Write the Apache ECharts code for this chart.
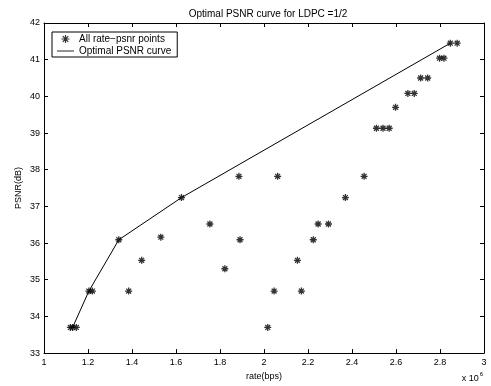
<!DOCTYPE html>
<html>
<head>
<meta charset="utf-8">
<script src="https://cdn.jsdelivr.net/npm/echarts@6/dist/echarts.min.js"></script>
<style>
  html, body { margin: 0; padding: 0; background: #fff; }
  #main { width: 491px; height: 386px; }
</style>
</head>
<body>
<div id="main"></div>
<script>
// all rate-psnr points (rate in units of 1e6 bps)
var allRate = [1.12, 1.13, 1.147, 1.204, 1.22, 1.34, 1.385, 1.444, 1.531, 1.625,
  1.754, 1.822, 1.886, 1.891, 2.017, 2.046, 2.062, 2.152, 2.17, 2.224,
  2.246, 2.293, 2.37, 2.455, 2.511, 2.541, 2.569, 2.598, 2.654, 2.683,
  2.712, 2.744, 2.798, 2.818, 2.847, 2.878]
var allPsnr = [33.7, 33.7, 33.7, 34.69, 34.69, 36.09, 34.69, 35.53, 36.16, 37.24,
  36.52, 35.3, 37.82, 36.09, 33.7, 34.69, 37.82, 35.53, 34.69, 36.09,
  36.52, 36.52, 37.24, 37.82, 39.13, 39.13, 39.13, 39.7, 40.08, 40.08,
  40.5, 40.5, 41.04, 41.04, 41.45, 41.45]

// optimal curve (upper hull)
var optRate = [1.13, 1.204, 1.34, 1.625, 2.847]
var optPsnr = [33.7, 34.69, 36.09, 37.24, 41.45]

var xTicks = [1, 1.2, 1.4, 1.6, 1.8, 2, 2.2, 2.4, 2.6, 2.8, 3]
var yTicks = [33, 34, 35, 36, 37, 38, 39, 40, 41, 42]

var star = 'path://M0 5L10 5M5 0L5 10M1.5 1.5L8.5 8.5M8.5 1.5L1.5 8.5'
var font = 'Liberation Sans, Arial, sans-serif'

var myChart = echarts.init(document.getElementById('main'))

var scatterData = []
for (var i = 0; i < allRate.length; i++) scatterData.push([allRate[i], allPsnr[i]])
var lineData = []
for (var j = 0; j < optRate.length; j++) lineData.push([optRate[j], optPsnr[j]])

function xAxisOf(pos, show) {
  return {
    type: 'value', position: pos, min: 1, max: 3, interval: 0.2,
    axisLine: { show: true, onZero: false, lineStyle: { color: '#000', width: 1 } },
    axisTick: { show: true, inside: true, length: 4, lineStyle: { color: '#000' } },
    splitLine: { show: false },
    axisLabel: {
      show: show, color: '#000', fontSize: 9, fontFamily: font, margin: 5,
      formatter: function (v) { return xTicks.indexOf(+v.toFixed(1)) >= 0 ? (+v.toFixed(1)).toString() : '' }
    },
    name: show ? 'rate(bps)' : '', nameLocation: 'middle', nameGap: 16,
    nameTextStyle: { color: '#000', fontSize: 9, fontFamily: font }
  }
}
function yAxisOf(pos, show) {
  return {
    type: 'value', position: pos, min: 33, max: 42, interval: 1,
    axisLine: { show: true, onZero: false, lineStyle: { color: '#000', width: 1 } },
    axisTick: { show: true, inside: true, length: 4, lineStyle: { color: '#000' } },
    splitLine: { show: false },
    axisLabel: {
      show: show, color: '#000', fontSize: 9, fontFamily: font, margin: 4,
      formatter: function (v) { return yTicks.indexOf(v) >= 0 ? String(v) : '' }
    },
    name: show ? 'PSNR(dB)' : '', nameLocation: 'middle', nameGap: 21,
    nameMoveOverlap: false,
    nameTextStyle: { color: '#000', fontSize: 9, fontFamily: font }
  }
}

var option = {
  backgroundColor: '#fff',
  animation: false,
  title: {
    text: 'Optimal PSNR curve for LDPC =1/2',
    left: 263, textAlign: 'center', top: 4,
    textStyle: { color: '#000', fontSize: 10, fontWeight: 'normal', fontFamily: font }
  },
  grid: { left: 44, right: 7, top: 23, bottom: 30 },
  legend: {
    orient: 'vertical', left: 52, top: 32,
    backgroundColor: '#fff', borderColor: '#000', borderWidth: 1,
    padding: [2, 6, 1, 5], itemGap: 2, itemWidth: 17, itemHeight: 8,
    textStyle: { color: '#000', fontSize: 10, fontFamily: font },
    data: [
      { name: 'All rate−psnr points', icon: star, itemStyle: { color: 'transparent', borderColor: '#000', borderWidth: 1.2 } },
      { name: 'Optimal PSNR curve', icon: 'path://M0 0H20V1H0Z', itemStyle: { color: '#000' } }
    ]
  },
  xAxis: [xAxisOf('bottom', true), xAxisOf('top', false)],
  yAxis: [yAxisOf('left', true), yAxisOf('right', false)],
  graphic: [{
    type: 'text', right: 8, bottom: 3,
    style: {
      text: '{a|x 10}{b|6}',
      rich: {
        a: { fill: '#000', fontSize: 9, fontFamily: font },
        b: { fill: '#000', fontSize: 6, fontFamily: font, verticalAlign: 'top', padding: [0, 0, 8, 1] }
      }
    }
  }],
  series: [
    {
      name: 'All rate−psnr points', type: 'scatter', xAxisIndex: 0, yAxisIndex: 0,
      symbol: star, symbolSize: 7,
      itemStyle: { color: 'transparent', borderColor: '#000', borderWidth: 1.3 },
      data: scatterData, z: 3
    },
    {
      name: 'Optimal PSNR curve', type: 'line', xAxisIndex: 0, yAxisIndex: 0,
      showSymbol: false, symbol: 'none',
      lineStyle: { color: '#000', width: 1 },
      itemStyle: { color: '#000' },
      data: lineData, z: 2
    }
  ]
}
myChart.setOption(option)
</script>
</body>
</html>
